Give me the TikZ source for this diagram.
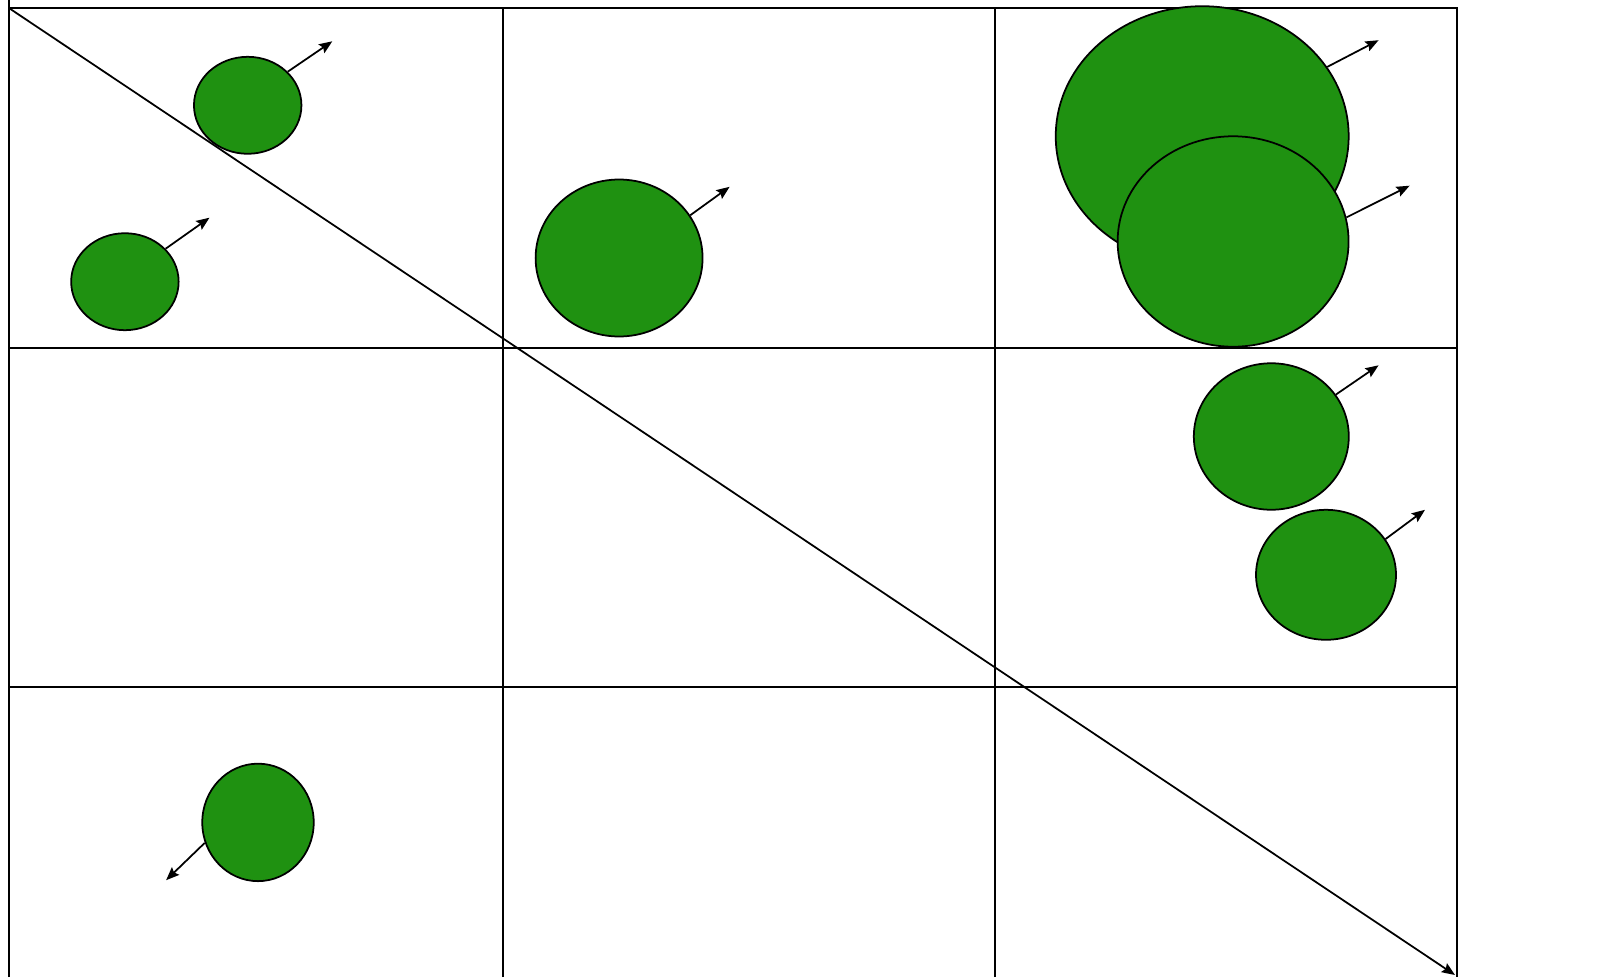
\documentclass[tikz,border=0pt]{standalone}
\usepackage{xcolor}
\usepackage{tikz}
\usetikzlibrary{arrows.meta,shapes.geometric}
\definecolor{leafgreen}{RGB}{31,145,17}
\tikzstyle{blob}=[ellipse,draw=black,fill=leafgreen,line width=1pt,inner sep=0pt]
\tikzstyle{gridline}=[line width=1pt,draw=black]
\tikzstyle{vec}=[-{Stealth[length=7.5pt,width=6pt,inset=1.2pt]},line width=1pt,draw=black]

\begin{document}
\begin{tikzpicture}[x=0.02cm,y=-0.02cm]
      \useasboundingbox (0,0) rectangle (1618,977);

      % cells
      \draw[gridline] (9.3,977) -- (9.3,0);
      \draw[gridline] (502.7,977) -- (502.7,8.3);
      \draw[gridline] (994.7,977) -- (994.7,8.3);
      \draw[gridline] (1456.7,977) -- (1456.7,8.3) -- (9.3,8.3);
      \draw[gridline] (9.3,347.7) -- (1456.7,347.7);
      \draw[gridline] (9.3,687.2) -- (1456.7,687.2);

      \node[blob,minimum width=2.15cm,minimum height=1.94cm] (e1) at (247.7,105.3) {};
      \node[blob,minimum width=2.15cm,minimum height=1.94cm] (e2) at (124.9,281.7) {};
      \node[blob,minimum width=3.34cm,minimum height=3.14cm] (e3) at (619.1,258) {};
      \node[blob,minimum width=5.86cm,minimum height=5.2cm] (e4) at (1202.2,136.2) {};
      \node[blob,minimum width=4.62cm,minimum height=4.21cm] (e5) at (1233.1,241.5) {};
      \node[blob,minimum width=3.1cm,minimum height=2.93cm] (e6) at (1271.3,436.5) {};
      \node[blob,minimum width=2.8cm,minimum height=2.6cm] (e7) at (1326,574.8) {};
      \node[blob,minimum width=2.23cm,minimum height=2.35cm] (e8) at (258,822.4) {};

      \coordinate (corner) at (9.3,8.3);
      \coordinate (far) at (1455,975);
      \coordinate (v1) at (332.3,41.3);
      \coordinate (v2) at (209.5,217.7);
      \coordinate (v3) at (729.6,186.8);
      \coordinate (v4) at (1378.6,40.2);
      \coordinate (v5) at (1409.6,185.7);
      \coordinate (v6) at (1378.6,365.3);
      \coordinate (v7) at (1425,509.8);
      \coordinate (v8) at (166.1,880.2);

      \draw[vec] (corner)--(far);
      \draw[vec] (e1.40)--(v1);
      \draw[vec] (e2.39)--(v2);
      \draw[vec] (e3.31)--(v3);
      \draw[vec] (e4.29)--(v4);
      \draw[vec] (e5.12)--(v5);
      \draw[vec] (e6.33)--(v6);
      \draw[vec] (e7.31)--(v7);
      \draw[vec] (e8.201)--(v8);
    \end{tikzpicture}
\end{document}
